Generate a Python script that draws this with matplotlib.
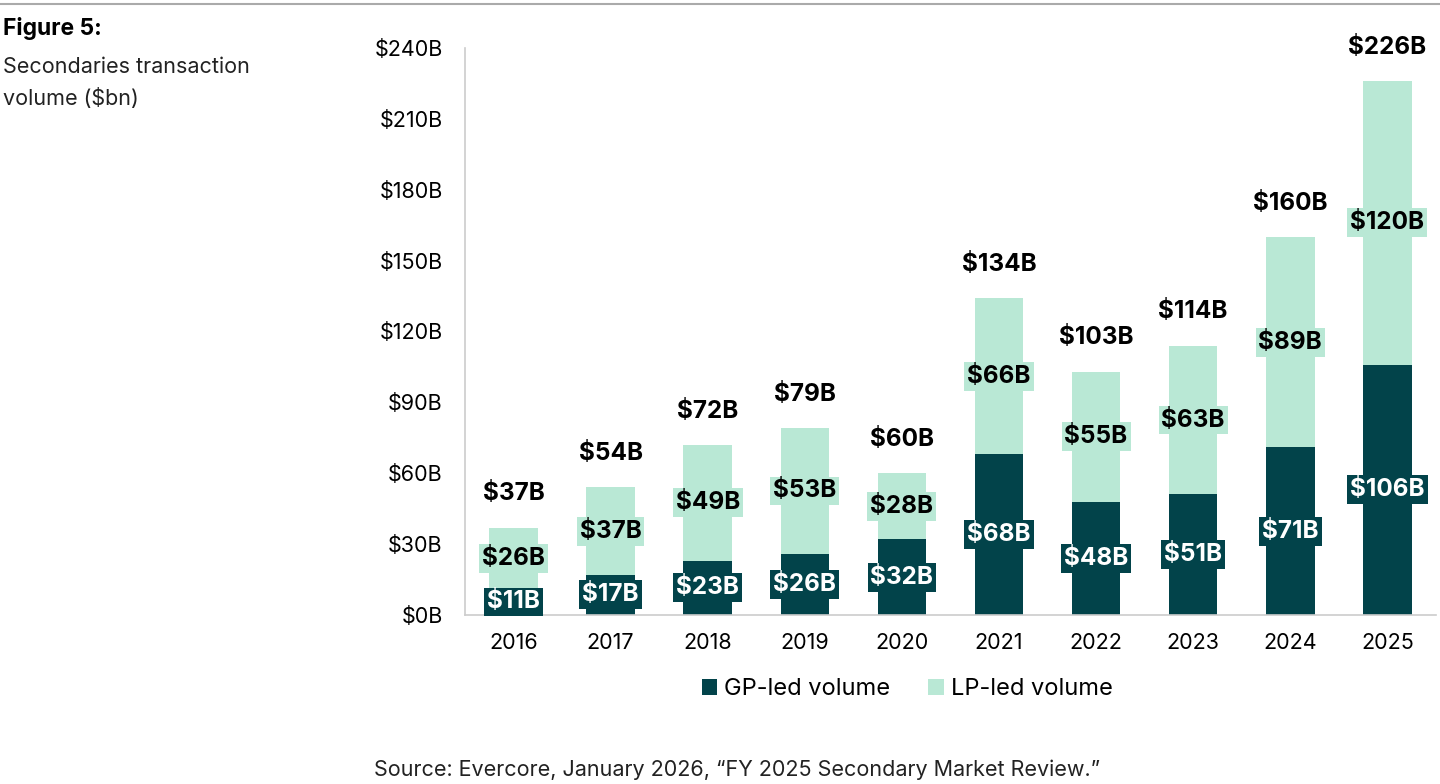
import numpy as np
import matplotlib.pyplot as plt
from matplotlib.lines import Line2D

plt.rcParams['font.family'] = ['Inter', 'DejaVu Sans']

years = ['2016', '2017', '2018', '2019', '2020', '2021', '2022', '2023', '2024', '2025']
gp_led = [11, 17, 23, 26, 32, 68, 48, 51, 71, 106]
lp_led = [26, 37, 49, 53, 28, 66, 55, 63, 89, 120]
y_ticks = [0, 30, 60, 90, 120, 150, 180, 210, 240]

dark = '#02434a'
light = '#b9e8d5'

fig = plt.figure(figsize=(14.4, 7.84), dpi=100)
ax = fig.add_axes([0.3229, 0.2156, 0.6743, 0.7232])

x = np.arange(len(years))
totals = np.array(gp_led) + np.array(lp_led)

ax.bar(x, gp_led, width=0.5, color=dark, label='GP-led volume', zorder=2)
ax.bar(x, lp_led, width=0.5, bottom=gp_led, color=light, label='LP-led volume', zorder=2)

# segment labels with boxes in the bar colour
for i in range(len(years)):
    ax.text(x[i], gp_led[i] / 2, f'${gp_led[i]}B', ha='center', va='center',
            color='white', fontsize=17.5, fontweight='bold', zorder=3,
            bbox=dict(boxstyle='square,pad=0.12', fc=dark, ec='none'))
    ax.text(x[i], gp_led[i] + lp_led[i] / 2, f'${lp_led[i]}B', ha='center', va='center',
            color='black', fontsize=17.5, fontweight='bold', zorder=3,
            bbox=dict(boxstyle='square,pad=0.12', fc=light, ec='none'))
    ax.annotate(f'${totals[i]}B', (x[i], totals[i]), xytext=(0, 16),
                textcoords='offset points', ha='center', va='bottom',
                fontsize=17.5, fontweight='bold', annotation_clip=False)

ax.set_xlim(-0.5, 9.5)
ax.set_ylim(0, 240)
ax.set_xticks(x)
ax.set_xticklabels(years, fontsize=15.5)
ax.set_yticks(y_ticks)
ax.set_yticklabels([f'${v}B' for v in y_ticks], fontsize=15.5)
ax.tick_params(length=0, pad=16)
ax.tick_params(axis='x', pad=13)
for s in ['top', 'right']:
    ax.spines[s].set_visible(False)
for s in ['left', 'bottom']:
    ax.spines[s].set_color('#cccccc')
    ax.spines[s].set_linewidth(1.2)

leg = fig.legend(loc='center', bbox_to_anchor=(0.63, 0.121), ncol=2, frameon=False,
                 fontsize=17, handlelength=0.65, handleheight=0.65,
                 handletextpad=0.3, columnspacing=1.6)

fig.add_artist(Line2D([0, 1], [0.995, 0.995], color='#aaaaaa', lw=1.5))
fig.text(0.002, 0.964, 'Figure 5:', fontsize=16.5, fontweight='bold', va='center')
fig.text(0.002, 0.914, 'Secondaries transaction', fontsize=15.5, va='center', color='#222222')
fig.text(0.002, 0.875, 'volume ($bn)', fontsize=15.5, va='center', color='#222222')
fig.text(0.26, 0.018, 'Source: Evercore, January 2026, \u201cFY 2025 Secondary Market Review.\u201d',
         fontsize=15.5, va='center', color='#222222')

fig.savefig('out.png', dpi=100)
